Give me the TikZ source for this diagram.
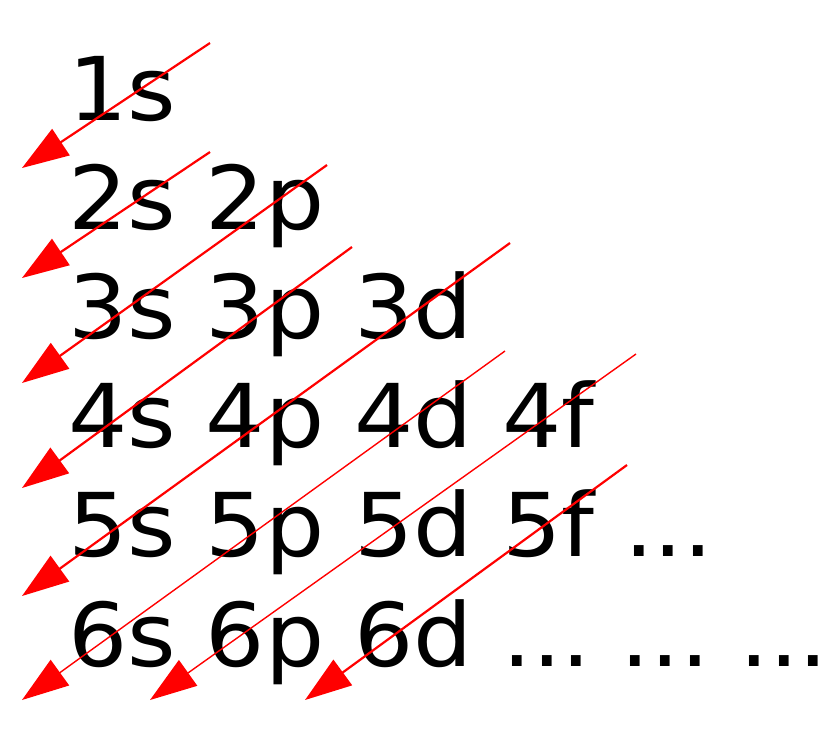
\documentclass[tikz,border=0pt]{standalone}
\usepackage{fontspec}
\usetikzlibrary{arrows.meta}
\newfontfamily\orbfont[FakeStretch=1.06]{DejaVu Sans}
\frenchspacing

\tikzset{
  orbrow/.style={anchor=base west, inner sep=0pt, font=\orbfont\fontsize{44}{50}\selectfont},
  diag/.style={red, line width=1.1pt, -{Triangle[length=23.4pt, width=15.7pt]}},
  diagthin/.style={diag, line width=0.7pt}
}

\begin{document}
\begin{tikzpicture}[x=0.5pt, y=-0.5pt]

  \useasboundingbox (0,0) rectangle (840,735);
  \fill[white] (0,0) rectangle (840,735);

  % rows of orbitals
  \foreach \n/\txt in {1/1s, 2/{2s 2p}, 3/{3s 3p 3d}, 4/{4s 4p 4d 4f},
                       5/{5s 5p 5d 5f ...}, 6/{6s 6p 6d ... ... ...}}
    \node[orbrow] (row\n) at (68, {120+109.2*(\n-1)}) {\txt};

  % start and end of the diagonals
  \coordinate (s1) at (210,43);  \coordinate (e1) at (22,168);
  \coordinate (s2) at (210,152); \coordinate (e2) at (22,278);
  \coordinate (s3) at (327,165); \coordinate (e3) at (22,383);
  \coordinate (s4) at (352,247); \coordinate (e4) at (22,488);
  \coordinate (s5) at (510,243); \coordinate (e5) at (22,596);
  \coordinate (s6) at (505,351); \coordinate (e6) at (22,700);
  \coordinate (s7) at (636,354); \coordinate (e7) at (150,700);
  \coordinate (s8) at (627,465); \coordinate (e8) at (305,700);

  % filling order
  \foreach \a in {1,...,5,8}
    \draw[diag] (s\a) -- (e\a);
  \foreach \a in {6,7}
    \draw[diagthin] (s\a) -- (e\a);

\end{tikzpicture}
\end{document}
